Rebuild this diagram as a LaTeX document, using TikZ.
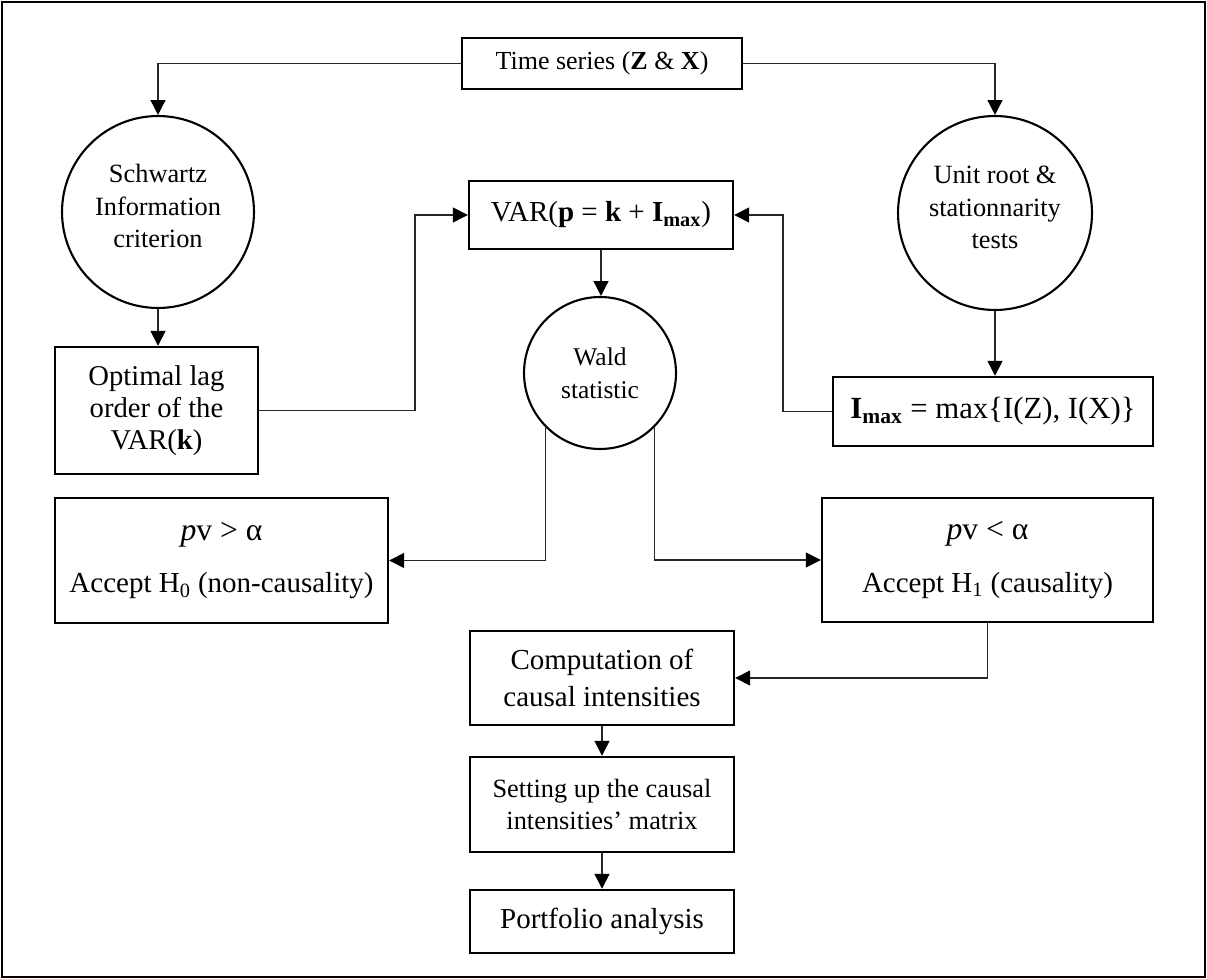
\documentclass[tikz,border=0pt]{standalone}
\usepackage{fontspec}
\setmainfont{Liberation Serif}
\usetikzlibrary{arrows.meta}
\begin{document}
\begin{tikzpicture}[x=0.02cm,y=-0.02cm,
  box/.style={draw,line width=1.4pt,inner sep=0pt,align=center,font=\fontsize{16}{19}\selectfont},
  circ/.style={draw,circle,line width=1.2pt,inner sep=0pt,align=center,font=\fontsize{15}{18.5}\selectfont},
  conn/.style={draw=black!85,line width=0.85pt},
  arr/.style={conn,-{Triangle[length=8.5pt,width=8.5pt,color=black]}}]
\useasboundingbox (0,0) rectangle (1207,979);
\draw[line width=1.4pt] (2,2) rectangle (1205,977);

% nodes
\node[box,minimum width=5.6cm,minimum height=1.02cm,font=\fontsize{14.8}{18}\selectfont] (ts) at (602,63.5) {Time series (\textbf{Z} \& \textbf{X})};
\node[circ,minimum size=3.84cm] (sch) at (158,212) {Schwartz\\Information\\criterion\\[-12pt]\mbox{}};
\node[circ,minimum size=3.88cm] (unit) at (995,213) {Unit root \&\\stationnarity\\tests\\[-12pt]\mbox{}};
\node[box,minimum width=5.28cm,minimum height=1.36cm,font=\fontsize{16.5}{19}\selectfont] (var) at (601,215) {VAR(\textbf{p} = \textbf{k} + \textbf{I}\textsubscript{\textbf{max}})};
\node[circ,minimum size=3.04cm,font=\fontsize{14.5}{19}\selectfont] (wald) at (600,373) {Wald\\statistic};
\node[box,minimum width=4.06cm,minimum height=2.54cm,font=\fontsize{16.3}{18}\selectfont] (opt) at (156.5,410.5) {Optimal lag\\order of the\\VAR(\textbf{k})};
\node[box,minimum width=6.4cm,minimum height=1.38cm,font=\fontsize{17.5}{20}\selectfont] (imax) at (993,411.5) {\textbf{I}\textsubscript{\textbf{max}} = max\{I(Z), I(X)\}};
\node[box,minimum width=6.66cm,minimum height=2.5cm,font=\fontsize{16.5}{19}\selectfont] (h0) at (221.5,560.5) {{\fontsize{18}{19}\selectfont\textit{p}v > α}\\[11pt]Accept H\textsubscript{0} (non-causality)};
\node[box,minimum width=6.62cm,minimum height=2.48cm,font=\fontsize{16.5}{19}\selectfont] (h1) at (987.5,560) {{\fontsize{18}{19}\selectfont\textit{p}v < α}\\[11pt]Accept H\textsubscript{1} (causality)};
\node[box,minimum width=5.28cm,minimum height=1.88cm,font=\fontsize{16.5}{21}\selectfont] (comp) at (602,678) {Computation of\\causal intensities};
\node[box,minimum width=5.28cm,minimum height=1.9cm,font=\fontsize{15}{18}\selectfont] (set) at (602,804.5) {Setting up the causal\\intensities’ matrix};
\node[box,minimum width=5.28cm,minimum height=1.26cm,font=\fontsize{16.5}{19}\selectfont] (port) at (602,921.5) {Portfolio analysis};

\coordinate (bendL) at (415,410.5);
\coordinate (bendR) at (783,411.5);

% connectors
\draw[arr] (ts.west) -| (sch.north);
\draw[arr] (ts.east) -| (unit.north);
\draw[arr] (sch.south) -- (sch.south |- opt.north);
\draw[arr] (unit.south) -- (unit.south |- imax.north);
\draw[arr] (opt.east) -- (bendL) |- (var.west);
\draw[arr] (imax.west) -- (bendR) |- (var.east);
\draw[arr] (var.south) -- (var.south |- wald.north);
\draw[arr] (wald.south west) |- (h0.east);
\draw[arr] (wald.south east) |- (h1.west);
\draw[arr] (h1.south) |- (comp.east);
\draw[arr] (comp.south) -- (set.north);
\draw[arr] (set.south) -- (port.north);
\end{tikzpicture}
\end{document}
